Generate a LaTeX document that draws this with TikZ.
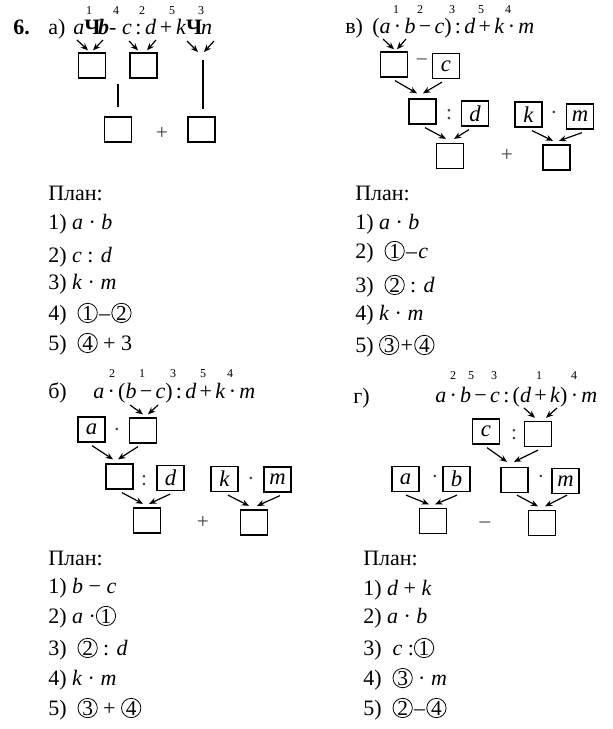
\documentclass[tikz,border=0pt]{standalone}
\usepackage{fontspec}
\setmainfont{Liberation Serif}
\usetikzlibrary{arrows.meta,calc}
\newcommand\cnum[1]{\tikz[baseline=(cc.base)]\node[draw,circle,line width=0.6pt,inner sep=0pt,minimum size=14.5pt,font=\fontsize{16}{16}\selectfont](cc){#1};}
\newcommand\opx[1]{\hspace{0.15em}#1\hspace{0.15em}}
\newcommand\vi[1]{\textit{#1}}
\begin{document}
\begin{tikzpicture}[x=0.75pt,y=-0.75pt,
  txt/.style={font=\fontsize{16.5}{19}\selectfont, inner sep=0pt, anchor=base west},
  num/.style={font=\fontsize{9}{10}\selectfont, inner sep=0pt},
  sq/.style={draw, line width=1.2pt, minimum width=20pt, minimum height=18.5pt, inner sep=0pt, font=\fontsize{17}{19}\selectfont\itshape},
  arr/.style={-{Stealth[length=5.5pt,width=4.5pt]}, line width=0.9pt},
  opn/.style={font=\fontsize{16}{19}\selectfont, inner sep=0pt, text=black!75},
  plan/.style={font=\fontsize{16.5}{19}\selectfont, inner sep=0pt, anchor=base west},
]
\useasboundingbox[fill=white] (0,0) rectangle (613,729);

% ===== a) =====
\node[txt,font=\fontsize{16.5}{19}\selectfont\bfseries] (six) at (13,34) {6.};
\node[txt] (la) at (48,34) {а)};
\node[txt] (ea) at (73,34) {\vi{a}\textbf{Ч}\kern-0.1em\textbf{\vi{b}}-\ \vi{c}\,:\,\vi{d}\,+\,\vi{k}\textbf{Ч}\kern-0.05em\vi{n}};
\node[num] (na1) at (89,11) {1};
\node[num] (na4) at (116,11) {4};
\node[num] (na2) at (142,11) {2};
\node[num] (na5) at (172,11) {5};
\node[num] (na3) at (201,11) {3};
\node[sq] (a1) at (92,65.5) {};
\node[sq] (a2) at (143.5,65.5) {};
\node[sq] (a3) at (118,129.5) {};
\node[opn] (ap) at (162,133) {+};
\node[sq] (a4) at (201.5,129.5) {};
\coordinate (sa1) at (77,40); \coordinate (sa2) at (103,40);
\coordinate (sa3) at (129,41); \coordinate (sa4) at (156,40);
\coordinate (sa5) at (187,41); \coordinate (sa6) at (214,41);
\coordinate (ta5) at (198,52); \coordinate (ta6) at (204,52);
\draw[arr] (sa1) -- ($(a1.north)+(-4,-2)$);
\draw[arr] (sa2) -- ($(a1.north)+(1,-2)$);
\draw[arr] (sa3) -- ($(a2.north)+(-5.5,-2)$);
\draw[arr] (sa4) -- ($(a2.north)+(3.5,-2)$);
\draw[arr] (sa5) -- (ta5);
\draw[arr] (sa6) -- (ta6);
\coordinate (lla) at (118,84);
\coordinate (llb) at (203,60);
\draw[line width=1.2pt] (lla) -- ($(a3.north)+(0,-9)$);
\draw[line width=1.2pt] (llb) -- ($(a4.north)+(1.5,-7)$);

% ===== plan a =====
\node[plan] (pa0) at (48,200) {План:};
\node[plan] (pa1) at (48,229) {1) \vi{a} · \vi{b}};
\node[plan] (pa2) at (48,262) {2) \vi{c} : \vi{d}};
\node[plan] (pa3) at (48,289) {3) \vi{k} · \vi{m}};
\node[plan] (pa4) at (48,320) {4) \ \cnum{1}\kern1pt–\kern1pt\cnum{2}};
\node[plan] (pa5) at (48,350) {5) \ \cnum{4} + 3};

% ===== v) =====
\node[txt] (lv) at (345,33) {в)};
\node[txt] (ev) at (372,33) {(\vi{a}\opx{·}\vi{b}\opx{−}\vi{c})\opx{:}\vi{d}\opx{+}\vi{k}\opx{·}\vi{m}};
\node[num] (nv1) at (396,10) {1};
\node[num] (nv2) at (420,10) {2};
\node[num] (nv3) at (452,10) {3};
\node[num] (nv5) at (481,10) {5};
\node[num] (nv4) at (508,10) {4};
\node[sq] (v1) at (394,64.5) {};
\node[opn] (vm) at (422,63) {−};
\node[sq] (v2) at (446,66) {c};
\node[sq] (v3) at (422.5,111.5) {};
\node[opn] (vc) at (449,115) {:};
\node[sq] (v4) at (475,113.5) {d};
\node[sq] (v5) at (528.5,114.5) {k};
\node[opn] (vd) at (554,115) {·};
\node[sq] (v6) at (580,116.5) {m};
\node[sq] (v7) at (450,156) {};
\node[opn] (vp) at (507,155) {+};
\node[sq] (v8) at (556.5,157.5) {};
\coordinate (sv1) at (383,39); \coordinate (sv2) at (406,39);
\draw[arr] (sv1) -- ($(v1.north)+(0,-2)$);
\draw[arr] (sv2) -- ($(v1.north)+(3,-2)$);
\draw[arr] ($(v1.south)+(1,3)$) -- ($(v3.north)+(-5.5,-5)$);
\draw[arr] ($(v2.south)+(-4,3)$) -- ($(v3.north)+(0.5,-5)$);
\draw[arr] ($(v3.south)+(2.5,3)$) -- ($(v7.north)+(-4,-4)$);
\draw[arr] ($(v4.south)+(-6,3)$) -- ($(v7.north)+(4,-4)$);
\draw[arr] ($(v5.south)+(3.5,3)$) -- ($(v8.north)+(-3.5,-3.5)$);
\draw[arr] ($(v6.south)+(2,3)$) -- ($(v8.north)+(2.5,-3.5)$);

% ===== plan v =====
\node[plan] (pv0) at (355,200) {План:};
\node[plan] (pv1) at (355,229) {1) \vi{a} · \vi{b}};
\node[plan] (pv2) at (355,258) {2) \ \cnum{1}\kern1pt–\kern1pt\vi{c}};
\node[plan] (pv3) at (355,292) {3) \ \cnum{2} : \vi{d}};
\node[plan] (pv4) at (355,320) {4) \vi{k} · \vi{m}};
\node[plan] (pv5) at (355,352) {5) \cnum{3}\kern1pt+\kern1pt\cnum{4}};

% ===== b) =====
\node[txt] (lb) at (48,398) {б)};
\node[txt] (eb) at (93,398) {\vi{a}\opx{·}(\vi{b}\opx{−}\vi{c})\opx{:}\vi{d}\opx{+}\vi{k}\opx{·}\vi{m}};
\node[num] (nb2) at (112,374) {2};
\node[num] (nb1) at (142,374) {1};
\node[num] (nb3) at (173,374) {3};
\node[num] (nb5) at (203,374) {5};
\node[num] (nb4) at (230,374) {4};
\node[sq] (b1) at (91.5,429.5) {a};
\node[opn] (bd1) at (117,432) {·};
\node[sq] (b2) at (143,430.5) {};
\node[sq] (b3) at (119.5,476.5) {};
\node[opn] (bc) at (144,481) {:};
\node[sq] (b4) at (170.5,478) {d};
\node[sq] (b5) at (224.5,479) {k};
\node[opn] (bd2) at (251,481) {·};
\node[sq] (b6) at (277.5,479.5) {m};
\node[sq] (b7) at (147,520.5) {};
\node[opn] (bp) at (203,522) {+};
\node[sq] (b8) at (254,522.5) {};
\coordinate (sb1) at (130,405); \coordinate (sb2) at (158,405);
\draw[arr] (sb1) -- ($(b2.north)+(0,-3)$);
\draw[arr] (sb2) -- ($(b2.north)+(5,-3)$);
\draw[arr] ($(b1.south)+(0.5,3)$) -- ($(b3.north)+(-6.5,-4)$);
\draw[arr] ($(b2.south)+(-5,3)$) -- ($(b3.north)+(-1.5,-4)$);
\draw[arr] ($(b3.south)+(2.5,3)$) -- ($(b7.north)+(-4,-3.5)$);
\draw[arr] ($(b4.south)+(-0.5,3)$) -- ($(b7.north)+(2,-3.5)$);
\draw[arr] ($(b5.south)+(3.5,3)$) -- ($(b8.north)+(-5,-3.5)$);
\draw[arr] ($(b6.south)+(2.5,3)$) -- ($(b8.north)+(3,-3.5)$);

% ===== plan b =====
\node[plan] (pb0) at (48,565) {План:};
\node[plan] (pb1) at (48,593) {1) \vi{b} − \vi{c}};
\node[plan] (pb2) at (48,623) {2) \vi{a} ·\cnum{1}};
\node[plan] (pb3) at (48,655) {3) \ \cnum{2} : \vi{d}};
\node[plan] (pb4) at (48,685) {4) \vi{k} · \vi{m}};
\node[plan] (pb5) at (48,715) {5) \ \cnum{3} + \cnum{4}};

% ===== g) =====
\node[txt] (lg) at (353,403) {г)};
\node[txt] (eg) at (435,402) {\vi{a}\opx{·}\vi{b}\opx{−}\vi{c}\opx{:}(\vi{d}\opx{+}\vi{k})\opx{·}\vi{m}};
\node[num] (ng2) at (453,376) {2};
\node[num] (ng5) at (471,376) {5};
\node[num] (ng3) at (494,376) {3};
\node[num] (ng1) at (539,376) {1};
\node[num] (ng4) at (574,376) {4};
\node[sq] (g1) at (486,431.5) {c};
\node[opn] (gc) at (514,435) {:};
\node[sq] (g2) at (538,434) {};
\node[sq] (g3) at (405.5,479) {a};
\node[opn] (gd1) at (435,479) {·};
\node[sq] (g4) at (456.5,479) {b};
\node[sq] (g5) at (514.5,480) {};
\node[opn] (gd2) at (541,479) {·};
\node[sq] (g6) at (565.5,481) {m};
\node[sq] (g7) at (433,521) {};
\node[opn] (gm) at (485,525) {–};
\node[sq] (g8) at (542,523) {};
\coordinate (sg1) at (524,408); \coordinate (sg2) at (557,408);
\draw[arr] (sg1) -- ($(g2.north)+(-3,-3)$);
\draw[arr] (sg2) -- ($(g2.north)+(8,-3)$);
\draw[arr] ($(g1.south)+(1,3)$) -- ($(g5.north)+(-7.5,-5)$);
\draw[arr] ($(g2.south)+(0,3)$) -- ($(g5.north)+(-0.5,-5)$);
\draw[arr] ($(g3.south)+(0.5,3)$) -- ($(g7.north)+(-4,-3.5)$);
\draw[arr] ($(g4.south)+(0.5,3)$) -- ($(g7.north)+(2,-3.5)$);
\draw[arr] ($(g5.south)+(2.5,2)$) -- ($(g8.north)+(-4,-3.5)$);
\draw[arr] ($(g6.south)+(1.5,1)$) -- ($(g8.north)+(3,-3.5)$);

% ===== plan g =====
\node[plan] (pg0) at (363,565) {План:};
\node[plan] (pg1) at (363,595) {1) \vi{d} + \vi{k}};
\node[plan] (pg2) at (363,623) {2) \vi{a} · \vi{b}};
\node[plan] (pg3) at (363,655) {3) \ \vi{c} :\cnum{1}};
\node[plan] (pg4) at (363,685) {4) \ \cnum{3} · \vi{m}};
\node[plan] (pg5) at (363,715) {5) \ \cnum{2}\kern1pt–\kern1pt\cnum{4}};
\end{tikzpicture}
\end{document}
